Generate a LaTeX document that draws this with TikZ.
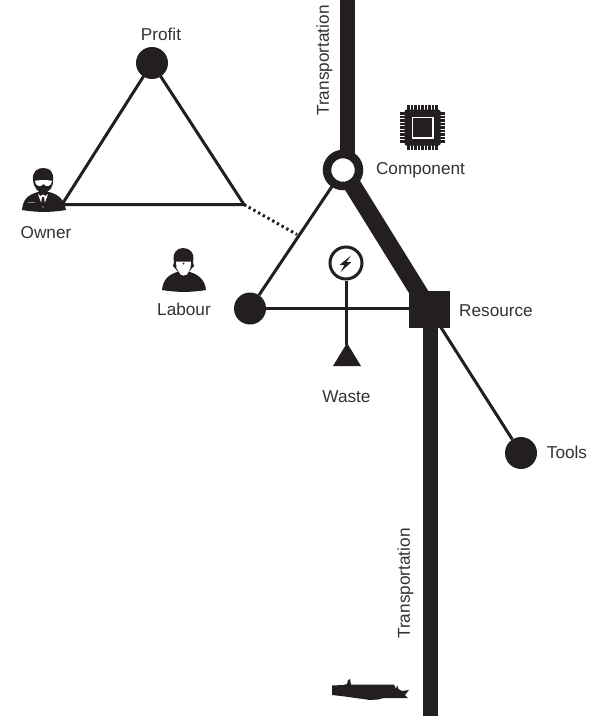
\documentclass[tikz,border=0pt]{standalone}
\usepackage{fontspec}
\setmainfont{Liberation Sans}
\definecolor{ink}{HTML}{231F20}
\definecolor{txt}{HTML}{333132}
\tikzset{
  dot/.style={circle,fill=ink,inner sep=0pt,minimum size=32pt},
  lab/.style={text=txt,font=\fontsize{17.2}{20}\selectfont,inner sep=0pt},
  thin link/.style={draw=ink,line width=3pt},
  thick link/.style={draw=ink,line width=15pt},
  icon/.style={fill=ink,draw=none},
  hole/.style={fill=white,draw=none}
}
\begin{document}
\begin{tikzpicture}[x=1pt,y=-1pt]
\useasboundingbox (0,0) rectangle (613,716);
% anchors
\coordinate (topend) at (347.5,0);
\coordinate (topjoin) at (347.5,170);
\coordinate (botend) at (430.5,716);
\coordinate (botstart) at (430.5,320);
\coordinate (ownerpt) at (62,204.5);
\coordinate (apexR) at (244,204.5);
\coordinate (dotend) at (297,234.5);
\coordinate (wasteTop) at (346,345);
% nodes
\node[dot] (profit) at (152,63) {};
\node[dot] (labour) at (250,308.5) {};
\node[dot] (tools) at (521,453) {};
\node[draw=none,fill=ink,inner sep=0pt,minimum width=41pt,minimum height=37pt] (resource) at (429.5,309.5) {};
\node[circle,draw=ink,line width=3pt,fill=white,inner sep=0pt,minimum size=32pt] (power) at (346,263) {};
\coordinate (ringc) at (343,170);
% connectors
\path[thin link] (ownerpt) -- (apexR) -- (profit.center) -- (ownerpt);
\draw[ink,line width=3pt,dash pattern=on 2.4pt off 3pt] (apexR) -- (dotend);
\path[thin link] (labour) -- (ringc);
\path[thin link] (labour) -- (labour -| resource.west);
\path[thin link] (resource.center) -- (tools);
\path[thin link] (power) -- (wasteTop);
\path[thick link] (topend) -- (topjoin);
\path[thick link] (botstart) -- (botend);
\path[draw=ink,line width=17.5pt] (ringc) -- (resource.center);
% ring over the thick lines
\node[circle,draw=ink,line width=8.5pt,fill=white,inner sep=0pt,minimum size=32pt] (ring) at (ringc) {};
% waste triangle
\path[icon] (347,343) -- (361,366) -- (333,366) -- cycle;
% bolt
\path[icon] (351,255.5) -- (339.5,265) -- (344.5,265) -- (340.5,272) -- (351.5,262) -- (346.5,262) -- cycle;
% chip
\begin{scope}[shift={(422.5,127.5)}]
\foreach \i in {-14,-10.5,...,14.1}{
  \fill[ink] (\i-1.1,-22.5) rectangle (\i+1.1,22.5);
  \fill[ink] (-22.5,\i-1.1) rectangle (22.5,\i+1.1);
}
\path[icon,rounded corners=1.5pt] (-18,-18) rectangle (18,18);
\path[hole] (-11,-11) rectangle (11,11);
\path[icon] (-9.2,-9.2) rectangle (9.2,9.2);
\end{scope}
% owner icon
\path[icon] (22,210) .. controls (23,200) and (27,195) .. (38,192) -- (49,192) .. controls (60,195) and (64,200) .. (66,210) .. controls (52,212.5) and (36,212.5) .. (22,210) -- cycle;
\path[icon] (33,180) .. controls (32,172) and (37,168) .. (43,168) .. controls (50,168) and (54,172) .. (53,180) .. controls (54,186) and (49,193) .. (43,194) .. controls (38,193) and (33,186) .. (33,180) -- cycle;
\path[hole] (35,181) .. controls (36,179.8) and (51,179.8) .. (52,181) .. controls (52,186.5) and (46,187.5) .. (43.5,184) .. controls (41,187.5) and (35,186.5) .. (35,181) -- cycle;
\path[hole] (38,194) -- (43,208) -- (48,194) -- (45.5,196) -- (43,194.5) -- (40.5,196) -- cycle;
\path[icon] (42,197) -- (44,197) -- (45,204) -- (43,207) -- (41,204) -- cycle;
\path[fill=ink!55!white] (28,201.5) rectangle (35,203);
% labour icon
\path[icon] (162,290) .. controls (163,280) and (168,275) .. (177,272) -- (190,272) .. controls (199,275) and (205,280) .. (206,290) .. controls (192,292.5) and (176,292.5) .. (162,290) -- cycle;
\path[icon] (174,262) .. controls (172,253) and (177,248) .. (183,248) .. controls (190,248) and (195,253) .. (193,262) -- (194,266) -- (187,274) -- (180,274) -- (173,266) -- cycle;
\path[hole] (176,261.5) -- (191,261.5) -- (190.5,268) -- (187,274.5) .. controls (185,276) and (182,276) .. (180.5,274.5) -- (176.5,268) -- cycle;
\path[icon] (183.5,263.5) circle (1);
% ship
\path[icon] (332,685.5) -- (343,685) -- (347,684) -- (348,680) -- (350,679) -- (351,684.5) -- (394,684.5) -- (396,689) -- (397,685) -- (398.5,689) -- (402,691) -- (409,690) -- (405,695) -- (408,698) -- (384,698) -- (378,699.5) -- (370,700) -- (345,696.5) -- (332,695) -- cycle;
% labels
\node[lab] (tprofit) at (161,34.5) {Profit};
\node[lab] (towner) at (46,232.5) {Owner};
\node[lab] (tlabour) at (184,309.5) {Labour};
\node[lab] (twaste) at (346.5,396.5) {Waste};
\node[lab] (tcomp) at (420.5,170) {Component};
\node[lab] (tres) at (496,310.5) {Resource};
\node[lab] (ttools) at (567,452.5) {Tools};
\node[lab,rotate=90] (t1) at (324.5,60.5) {Transportation};
\node[lab,rotate=90] (t2) at (405.5,583.5) {Transportation};
\end{tikzpicture}
\end{document}
